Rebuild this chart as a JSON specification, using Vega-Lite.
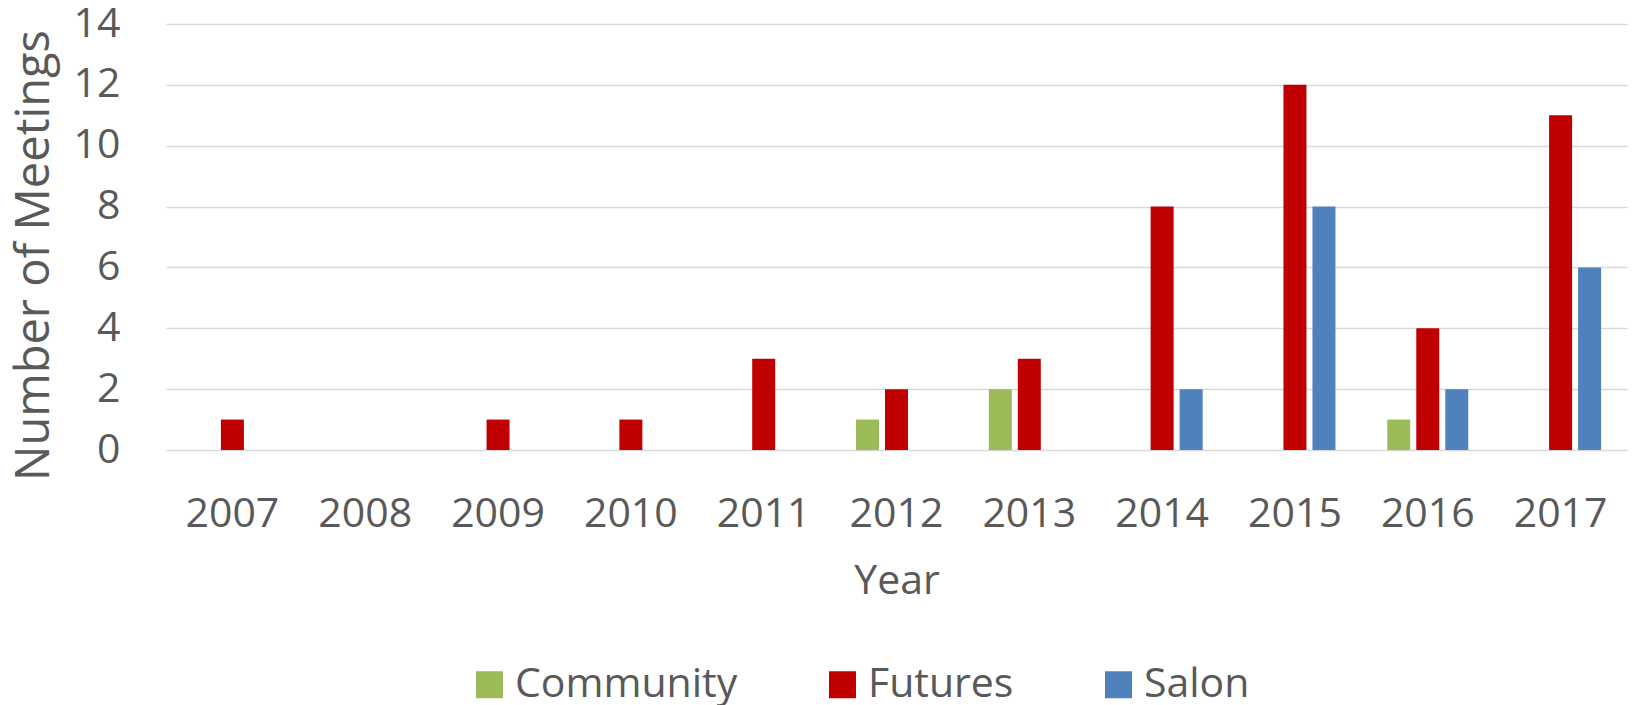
{
  "$schema": "https://vega.github.io/schema/vega-lite/v6.json",
  "autosize": "none",
  "width": 1461,
  "height": 426,
  "padding": {"left": 166, "top": 24, "right": 6, "bottom": 255},
  "background": "white",
  "config": {
    "font": "Open Sans",
    "view": {"stroke": null}
  },
  "data": {
    "values": [
      {"Year": "2007", "Series": "Futures", "Meetings": 1},
      {"Year": "2009", "Series": "Futures", "Meetings": 1},
      {"Year": "2010", "Series": "Futures", "Meetings": 1},
      {"Year": "2011", "Series": "Futures", "Meetings": 3},
      {"Year": "2012", "Series": "Community", "Meetings": 1},
      {"Year": "2012", "Series": "Futures", "Meetings": 2},
      {"Year": "2013", "Series": "Community", "Meetings": 2},
      {"Year": "2013", "Series": "Futures", "Meetings": 3},
      {"Year": "2014", "Series": "Futures", "Meetings": 8},
      {"Year": "2014", "Series": "Salon", "Meetings": 2},
      {"Year": "2015", "Series": "Futures", "Meetings": 12},
      {"Year": "2015", "Series": "Salon", "Meetings": 8},
      {"Year": "2016", "Series": "Community", "Meetings": 1},
      {"Year": "2016", "Series": "Futures", "Meetings": 4},
      {"Year": "2016", "Series": "Salon", "Meetings": 2},
      {"Year": "2017", "Series": "Futures", "Meetings": 11},
      {"Year": "2017", "Series": "Salon", "Meetings": 6}
    ]
  },
  "mark": {"type": "bar"},
  "encoding": {
    "x": {
      "field": "Year",
      "type": "nominal",
      "sort": null,
      "scale": {
        "domain": ["2007","2008","2009","2010","2011","2012","2013","2014","2015","2016","2017"],
        "paddingInner": 0.345,
        "paddingOuter": 0.1725
      },
      "axis": {
        "title": "Year",
        "labelAngle": 0,
        "labelFont": "Open Sans",
        "labelFontSize": 41,
        "labelColor": "#595959",
        "labelBaseline": "alphabetic",
        "labelPadding": 76,
        "ticks": false,
        "domain": false,
        "grid": false,
        "titleFont": "Open Sans",
        "titleFontSize": 41,
        "titleFontWeight": "normal",
        "titleColor": "#595959",
        "titleBaseline": "alphabetic",
        "titleY": 143
      }
    },
    "xOffset": {
      "field": "Series",
      "type": "nominal",
      "scale": {
        "domain": ["Community", "Futures", "Salon"],
        "paddingInner": 0.207,
        "paddingOuter": 0.1035
      }
    },
    "y": {
      "field": "Meetings",
      "type": "quantitative",
      "scale": {"domain": [0, 14], "nice": false},
      "axis": {
        "title": "Number of Meetings",
        "values": [0, 2, 4, 6, 8, 10, 12, 14],
        "labelFont": "Open Sans",
        "labelFontSize": 41,
        "labelColor": "#595959",
        "labelPadding": 46,
        "ticks": false,
        "domain": false,
        "grid": true,
        "gridColor": "#d9d9d9",
        "gridWidth": 1.3,
        "titleFont": "Open Sans",
        "titleFontSize": 47,
        "titleFontWeight": "normal",
        "titleColor": "#595959",
        "titleAngle": -90,
        "titleBaseline": "alphabetic",
        "titleX": -118,
        "titleY": 231
      }
    },
    "color": {
      "field": "Series",
      "type": "nominal",
      "scale": {
        "domain": ["Community", "Futures", "Salon"],
        "range": ["#9bbb59", "#c00000", "#4f81bd"]
      },
      "legend": {
        "title": null,
        "orient": "none",
        "direction": "horizontal",
        "legendX": 303,
        "legendY": 640,
        "padding": 0,
        "symbolType": "square",
        "symbolSize": 729,
        "symbolStrokeWidth": 0,
        "symbolOpacity": 1,
        "labelFont": "Open Sans",
        "labelFontSize": 41,
        "labelColor": "#595959",
        "labelOffset": 5,
        "columnPadding": 84,
        "labelLimit": 500
      }
    }
  }
}
